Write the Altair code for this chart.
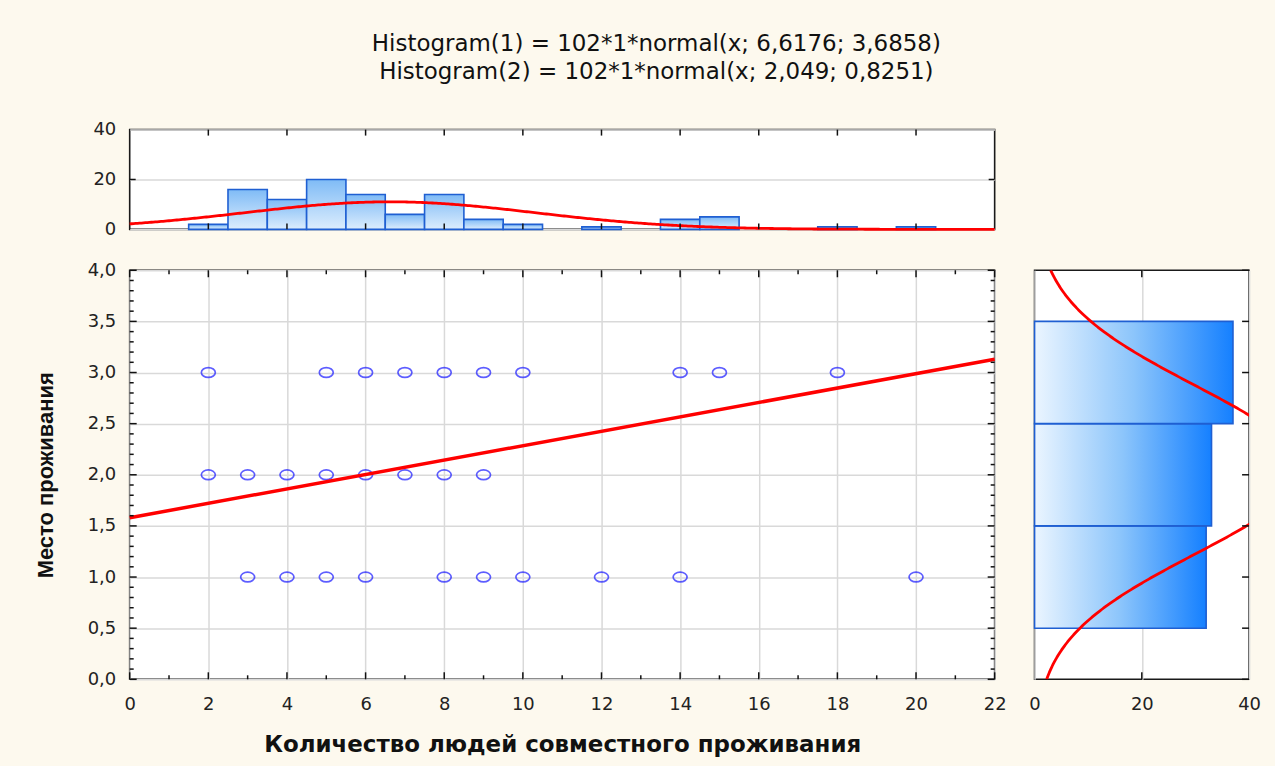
import altair as alt
import pandas as pd

# ---------------- data ----------------
# scatter: x values present at each level of "Место проживания"
x_at_level3 = [2, 5, 6, 7, 8, 9, 10, 14, 15, 18]
x_at_level2 = [2, 3, 4, 5, 6, 7, 8, 9]
x_at_level1 = [3, 4, 5, 6, 8, 9, 10, 12, 14, 20]

# top histogram (variable 1)
hist1_values = [2, 3, 4, 5, 6, 7, 8, 9, 10, 12, 14, 15, 18, 20]
hist1_counts = [2, 16, 12, 20, 14, 6, 14, 4, 2, 1, 4, 5, 1, 1]

# right histogram (variable 2)
hist2_values = [1, 2, 3]
hist2_counts = [32, 33, 37]

# fitted regression line (end points)
fit_x = [0, 22]
fit_y = [1.58, 3.13]

# normal fits stated in the title
N_TOTAL = 102
MEAN1, SD1 = 6.6176, 3.6858
MEAN2, SD2 = 2.049, 0.8251

title_lines = [
    "Histogram(1) = 102*1*normal(x; 6,6176; 3,6858)",
    "Histogram(2) = 102*1*normal(x; 2,049; 0,8251)",
]
x_title = "Количество людей совместного проживания"
y_title = "Место проживания"

# tick positions
x_major = [0, 2, 4, 6, 8, 10, 12, 14, 16, 18, 20, 22]
x_minor = [1, 3, 5, 7, 9, 11, 13, 15, 17, 19, 21]
y_major = [0.0, 0.5, 1.0, 1.5, 2.0, 2.5, 3.0, 3.5, 4.0]
y_minor = [round(i * 0.1, 1) for i in range(41) if i % 5 != 0]
top_hist_y_ticks = [0, 20, 40]
right_hist_x_ticks = [0, 20, 40]

# ---------------- styling ----------------
W_MAIN, H_MAIN = 867, 410
H_TOP = 100
W_RIGHT = 215
BG = "#fdf9ee"
GRID = "#d9d9d9"
RED = "#ff0000"
BAR_STROKE = "#1f5fd2"
LABEL_FONT = "DejaVu Sans"
LABEL_SIZE = 18
LABEL_COLOR = "#222222"

ellipse = "M-1,0 A1,0.7 0 1,1 1,0 A1,0.7 0 1,1 -1,0 Z"

xs = alt.Scale(domain=[0, 22], nice=False, zero=False)
ys = alt.Scale(domain=[0, 4], nice=False, zero=False)
ys_top = alt.Scale(domain=[0, 40], nice=False)
xs_right = alt.Scale(domain=[0, 40], nice=False)

comma1 = "replace(format(datum.value, '.1f'), '.', ',')"

common_axis = dict(grid=True, gridColor=GRID, gridWidth=1.5, ticks=False, domain=False,
                   labelFont=LABEL_FONT, labelFontSize=LABEL_SIZE, labelColor=LABEL_COLOR,
                   labelFlush=False)

ax_x_main = alt.Axis(values=x_major, labelPadding=16, title=x_title, titleFont="DejaVu Sans",
                     titleFontSize=23, titleFontWeight="bold", titleColor="#111",
                     titlePadding=20, **common_axis)
ax_y_main = alt.Axis(values=y_major, labelExpr=comma1, labelPadding=14, title=y_title,
                     titleFont="Liberation Sans", titleFontSize=22, titleFontWeight="bold",
                     titleColor="#111", titlePadding=30, **common_axis)
ax_x_top = alt.Axis(values=x_major, labels=False, grid=False, ticks=False, domain=False, title=None)
ax_y_top = alt.Axis(values=top_hist_y_ticks, labelPadding=14, title=None, **common_axis)
ax_x_right = alt.Axis(values=right_hist_x_ticks, labelPadding=16, title=None, **common_axis)
ax_y_right = alt.Axis(values=y_major, labels=False, grid=False, ticks=False, domain=False, title=None)

# ---------------- data frames ----------------
scatter_df = pd.DataFrame({
    "x": x_at_level3 + x_at_level2 + x_at_level1,
    "y": [3] * len(x_at_level3) + [2] * len(x_at_level2) + [1] * len(x_at_level1),
})
fit_df = pd.DataFrame({"x": fit_x, "y": fit_y})
h1_df = pd.DataFrame({"v": hist1_values, "c": hist1_counts})
h2_df = pd.DataFrame({"v": hist2_values, "c": hist2_counts})
xmaj_df = pd.DataFrame({"t": x_major})
xmin_df = pd.DataFrame({"t": x_minor})
ymaj_df = pd.DataFrame({"t": y_major})
ymin_df = pd.DataFrame({"t": y_minor})


def xticks(df, y0, y1, scale, axis):
    return alt.Chart(df).mark_rule(color="#111", strokeWidth=1.5).encode(
        x=alt.X("t:Q", scale=scale, axis=axis), y=alt.value(y0), y2=alt.value(y1))


def yticks(df, x0, x1, scale, axis):
    return alt.Chart(df).mark_rule(color="#111", strokeWidth=1.5).encode(
        y=alt.Y("t:Q", scale=scale, axis=axis), x=alt.value(x0), x2=alt.value(x1))


# ---------------- main scatter plot ----------------
points = alt.Chart(scatter_df).mark_point(
    shape=ellipse, size=196, filled=False, color="#1a1aff", strokeWidth=1.7
).encode(
    x=alt.X("x:Q", scale=xs, axis=ax_x_main),
    y=alt.Y("y:Q", scale=ys, axis=ax_y_main),
)

fit_line = alt.Chart(fit_df).mark_line(color=RED, strokeWidth=3.5).encode(
    x=alt.X("x:Q", scale=xs, axis=ax_x_main), y=alt.Y("y:Q", scale=ys, axis=ax_y_main))

main = alt.layer(
    points, fit_line,
    xticks(xmaj_df, H_MAIN, H_MAIN - 7, xs, ax_x_main), xticks(xmin_df, H_MAIN, H_MAIN - 4, xs, ax_x_main),
    xticks(xmaj_df, 0, 7, xs, ax_x_main), xticks(xmin_df, 0, 4, xs, ax_x_main),
    yticks(ymaj_df, 0, 7, ys, ax_y_main), yticks(ymin_df, 0, 4, ys, ax_y_main),
    yticks(ymaj_df, W_MAIN, W_MAIN - 7, ys, ax_y_main), yticks(ymin_df, W_MAIN, W_MAIN - 4, ys, ax_y_main),
).properties(width=W_MAIN, height=H_MAIN)

# ---------------- top histogram ----------------
top_grad = alt.Gradient(
    gradient="linear",
    stops=[alt.GradientStop(color="#dcedfd", offset=0), alt.GradientStop(color="#7fbbf6", offset=1)],
    x1=0, x2=0, y1=1, y2=0)

top_bars = alt.Chart(h1_df).transform_calculate(
    lo="datum.v - 0.5", hi="datum.v + 0.5", z="0"
).mark_rect(fill=top_grad, stroke=BAR_STROKE, strokeWidth=1.6).encode(
    x=alt.X("lo:Q", scale=xs, axis=ax_x_top),
    x2="hi:Q",
    y=alt.Y("c:Q", scale=ys_top, axis=ax_y_top),
    y2="z:Q",
)

top_curve = alt.Chart(alt.sequence(0, 22.05, 0.05, as_="x")).transform_calculate(
    d=f"{N_TOTAL} * densityNormal(datum.x, {MEAN1}, {SD1})"
).mark_line(color=RED, strokeWidth=2.8).encode(
    x=alt.X("x:Q", scale=xs, axis=ax_x_top), y=alt.Y("d:Q", scale=ys_top, axis=ax_y_top))

top_xt = pd.DataFrame({"t": x_major[1:-1]})
top_yt = pd.DataFrame({"t": [20]})
top = alt.layer(
    top_bars, top_curve,
    xticks(top_xt, 0, 6, xs, ax_x_top), xticks(top_xt, H_TOP, H_TOP - 6, xs, ax_x_top),
    yticks(top_yt, 0, 6, ys_top, ax_y_top), yticks(top_yt, W_MAIN, W_MAIN - 6, ys_top, ax_y_top),
).properties(width=W_MAIN, height=H_TOP)

# ---------------- right histogram ----------------
right_grad = alt.Gradient(
    gradient="linear",
    stops=[alt.GradientStop(color="#ebf5ff", offset=0), alt.GradientStop(color="#8cc5fb", offset=0.5),
           alt.GradientStop(color="#1580ff", offset=1)],
    x1=0, x2=1, y1=0, y2=0)

right_bars = alt.Chart(h2_df).transform_calculate(
    lo="datum.v - 0.5", hi="datum.v + 0.5", z="0"
).mark_rect(fill=right_grad, stroke=BAR_STROKE, strokeWidth=1.6).encode(
    y=alt.Y("lo:Q", scale=ys, axis=ax_y_right),
    y2="hi:Q",
    x=alt.X("c:Q", scale=xs_right, axis=ax_x_right),
    x2="z:Q",
)

right_curve = alt.Chart(alt.sequence(0, 4.005, 0.01, as_="y")).transform_calculate(
    d=f"{N_TOTAL} * densityNormal(datum.y, {MEAN2}, {SD2})"
).mark_line(color=RED, strokeWidth=2.8, clip=True).encode(
    y=alt.Y("y:Q", scale=ys, axis=ax_y_right),
    x=alt.X("d:Q", scale=xs_right, axis=ax_x_right),
    order="y:Q",
)

r_xt = pd.DataFrame({"t": [20]})
right = alt.layer(
    right_bars, right_curve,
    xticks(r_xt, 0, 7, xs_right, ax_x_right), xticks(r_xt, H_MAIN, H_MAIN - 7, xs_right, ax_x_right),
    yticks(ymaj_df, W_RIGHT, W_RIGHT - 7, ys, ax_y_right),
).properties(width=W_RIGHT, height=H_MAIN)

# ---------------- assemble ----------------
bottom_row = alt.hconcat(main, right, spacing=40, bounds="flush")
chart = alt.vconcat(top, bottom_row, spacing=41, bounds="flush").properties(
    title=alt.TitleParams(
        text=title_lines, font="DejaVu Sans", fontSize=23, fontWeight="normal",
        color="#111", anchor="middle", lineHeight=28, offset=36, dx=9),
    background=BG,
    padding={"left": 33, "top": 32, "right": 13, "bottom": 8},
).configure_view(
    stroke="#1a1a1a", strokeWidth=1.6, fill="white"
)

chart.save("out.html", embed_options={"renderer": "svg", "actions": False})
